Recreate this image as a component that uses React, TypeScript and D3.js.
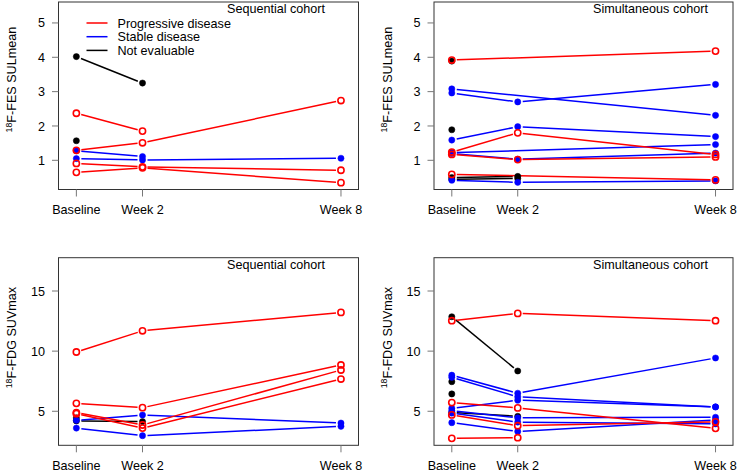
import * as d3 from "d3";

// time points (weeks) and their labels
const weeks = [0, 2, 8];
const weekLabels = ["Baseline", "Week 2", "Week 8"];

const fesTicks = [1, 2, 3, 4, 5];
const fdgTicks = [5, 10, 15];

const legendLabels = ["Progressive disease", "Stable disease", "Not evaluable"];

type Row = (number | null)[];

// Sequential cohort, 18F-FES SULmean
const seqFesProgressive: Row[] = [
  [2.37, 1.85, null],
  [1.29, 1.51, 2.74],
  [0.91, 0.81, 0.71],
  [0.65, 0.78, 0.35],
];
const seqFesStable: Row[] = [
  [1.28, 1.11, null],
  [1.05, 1.01, 1.06],
];
const seqFesNotEval: Row[] = [
  [4.02, 3.25, null],
  [1.57, null, null],
];

// Simultaneous cohort, 18F-FES SULmean
const simFesProgressive: Row[] = [
  [3.92, null, 4.18],
  [1.24, 1.8, 1.17],
  [1.17, 1.02, 1.1],
  [0.59, null, 0.43],
];
const simFesStable: Row[] = [
  [3.08, null, 2.31],
  [2.96, 2.7, 3.21],
  [1.59, 1.98, 1.69],
  [1.22, null, 1.46],
  [1.2, 1.03, 1.21],
  [0.42, 0.36, 0.4],
];
const simFesNotEval: Row[] = [
  [3.89, null, null],
  [1.89, null, null],
  [1.22, null, null],
  [0.5, 0.53, null],
  [0.45, 0.47, null],
];

// Sequential cohort, 18F-FDG SUVmax
const seqFdgProgressive: Row[] = [
  [9.93, 11.69, 13.22],
  [5.66, 5.3, 8.85],
  [4.89, 3.86, 8.43],
  [4.8, 3.6, 7.68],
];
const seqFdgStable: Row[] = [
  [4.25, 4.69, 4.02],
  [3.6, 2.97, 3.75],
];
const seqFdgNotEval: Row[] = [
  [4.45, null, null],
  [4.2, 4.14, null],
];

// Simultaneous cohort, 18F-FDG SUVmax
const simFdgProgressive: Row[] = [
  [12.53, 13.14, 12.53],
  [5.72, 5.28, 3.58],
  [4.7, 3.8, 4.12],
  [2.75, 2.8, null],
];
const simFdgStable: Row[] = [
  [8.0, 6.5, 9.43],
  [7.82, 6.2, 5.36],
  [5.25, 5.92, 5.36],
  [5.05, 4.45, 4.5],
  [4.85, 4.1, 3.95],
  [4.05, 3.32, 4.28],
];
const simFdgNotEval: Row[] = [
  [12.86, 8.35, null],
  [7.46, null, null],
  [6.44, null, null],
  [4.9, 4.58, null],
];

const RED = "#ff0000";
const BLUE = "#0000ff";
const BLACK = "#000000";
const FONT = "'Liberation Sans', Arial, Helvetica, sans-serif";
const FS = 12.6;
const GAP = 5;
const R = 3.1;

type PanelProps = {
  left: number;
  right: number;
  top: number;
  bottom: number;
  yDomain: [number, number];
  yTicks: number[];
  title: string;
  yLabel: string;
  progressive: Row[];
  stable: Row[];
  notEval: Row[];
  legend?: boolean;
};

function Panel(p: PanelProps) {
  const x = d3.scaleLinear().domain([-0.54, 8.53]).range([p.left, p.right]);
  const y = d3.scaleLinear().domain(p.yDomain).range([p.bottom, p.top]);

  const groups = [
    { rows: p.notEval, color: BLACK, open: false },
    { rows: p.stable, color: BLUE, open: false },
    { rows: p.progressive, color: RED, open: true },
  ];

  // type="b" style: segments with a gap around each point
  const segs = (row: Row) => {
    const pts = row
      .map((v, i) => (v == null ? null : [x(weeks[i]), y(v)]))
      .filter((d): d is number[] => d != null);
    const out: number[][] = [];
    for (let i = 0; i < pts.length - 1; i++) {
      const [x1, y1] = pts[i];
      const [x2, y2] = pts[i + 1];
      const len = Math.hypot(x2 - x1, y2 - y1);
      if (len <= 2 * GAP) continue;
      const ux = (x2 - x1) / len;
      const uy = (y2 - y1) / len;
      out.push([x1 + ux * GAP, y1 + uy * GAP, x2 - ux * GAP, y2 - uy * GAP]);
    }
    return out;
  };

  return (
    <g>
      <rect
        x={p.left}
        y={p.top}
        width={p.right - p.left}
        height={p.bottom - p.top}
        fill="none"
        stroke="#333"
        strokeWidth={1}
      />
      {/* y axis */}
      {p.yTicks.map((t) => (
        <g key={t}>
          <line x1={p.left - 6.5} x2={p.left} y1={y(t)} y2={y(t)} stroke="#777" />
          <text
            x={p.left - 13.5}
            y={y(t)}
            dy="0.36em"
            textAnchor="end"
            fontSize={FS}
            fontFamily={FONT}
          >
            {t}
          </text>
        </g>
      ))}
      {/* x axis */}
      {weeks.map((w, i) => (
        <g key={w}>
          <line x1={x(w)} x2={x(w)} y1={p.bottom} y2={p.bottom + 7} stroke="#777" />
          <text
            x={x(w)}
            y={p.bottom + 24.5}
            textAnchor="middle"
            fontSize={FS}
            fontFamily={FONT}
          >
            {weekLabels[i]}
          </text>
        </g>
      ))}
      <text
        transform={`translate(${p.left - 42.5},${p.bottom - 57}) rotate(-90)`}
        textAnchor="start"
        fontSize={FS}
        fontFamily={FONT}
      >
        <tspan fontSize={8.8} dy={-4.5}>18</tspan>
        <tspan dy={4.5}>{p.yLabel}</tspan>
      </text>
      <text
        x={p.right - 82.5}
        y={p.top + 11}
        textAnchor="middle"
        fontSize={FS}
        fontFamily={FONT}
      >
        {p.title}
      </text>
      {/* lines */}
      {groups.map((g, gi) =>
        g.rows.map((row, ri) =>
          segs(row).map((s, si) => (
            <line
              key={`${gi}-${ri}-${si}`}
              x1={s[0]}
              y1={s[1]}
              x2={s[2]}
              y2={s[3]}
              stroke={g.color}
              strokeWidth={1.5}
            />
          ))
        )
      )}
      {/* points */}
      {groups.map((g, gi) =>
        g.rows.map((row, ri) =>
          row.map((v, i) =>
            v == null ? null : (
              <circle
                key={`p${gi}-${ri}-${i}`}
                cx={x(weeks[i])}
                cy={y(v)}
                r={R}
                fill={g.open ? "none" : g.color}
                stroke={g.color}
                strokeWidth={g.open ? 1.6 : 0.5}
              />
            )
          )
        )
      )}
      {p.legend &&
        legendLabels.map((lab, i) => {
          const ly = p.top + 21 + i * 13.7;
          return (
            <g key={lab}>
              <line
                x1={p.left + 28}
                x2={p.left + 49}
                y1={ly}
                y2={ly}
                stroke={[RED, BLUE, BLACK][i]}
                strokeWidth={1.5}
              />
              <text
                x={p.left + 59}
                y={ly}
                dy="0.36em"
                fontSize={FS}
                fontFamily={FONT}
              >
                {lab}
              </text>
            </g>
          );
        })}
    </g>
  );
}

export default function App() {
  return (
    <svg
      width={740}
      height={472}
      style={{ position: "absolute", left: 0, top: 0, background: "#fff" }}
    >
      <Panel
        left={58.5}
        right={358.5}
        top={2}
        bottom={189.5}
        yDomain={[0.15, 5.61]}
        yTicks={fesTicks}
        title="Sequential cohort"
        yLabel="F-FES SULmean"
        progressive={seqFesProgressive}
        stable={seqFesStable}
        notEval={seqFesNotEval}
        legend
      />
      <Panel
        left={434}
        right={733}
        top={2}
        bottom={189.5}
        yDomain={[0.15, 5.61]}
        yTicks={fesTicks}
        title="Simultaneous cohort"
        yLabel="F-FES SULmean"
        progressive={simFesProgressive}
        stable={simFesStable}
        notEval={simFesNotEval}
      />
      <Panel
        left={58.5}
        right={358.5}
        top={257.7}
        bottom={445.3}
        yDomain={[2.17, 17.77]}
        yTicks={fdgTicks}
        title="Sequential cohort"
        yLabel="F-FDG SUVmax"
        progressive={seqFdgProgressive}
        stable={seqFdgStable}
        notEval={seqFdgNotEval}
      />
      <Panel
        left={434}
        right={733}
        top={257.7}
        bottom={445.3}
        yDomain={[2.17, 17.77]}
        yTicks={fdgTicks}
        title="Simultaneous cohort"
        yLabel="F-FDG SUVmax"
        progressive={simFdgProgressive}
        stable={simFdgStable}
        notEval={simFdgNotEval}
      />
    </svg>
  );
}
